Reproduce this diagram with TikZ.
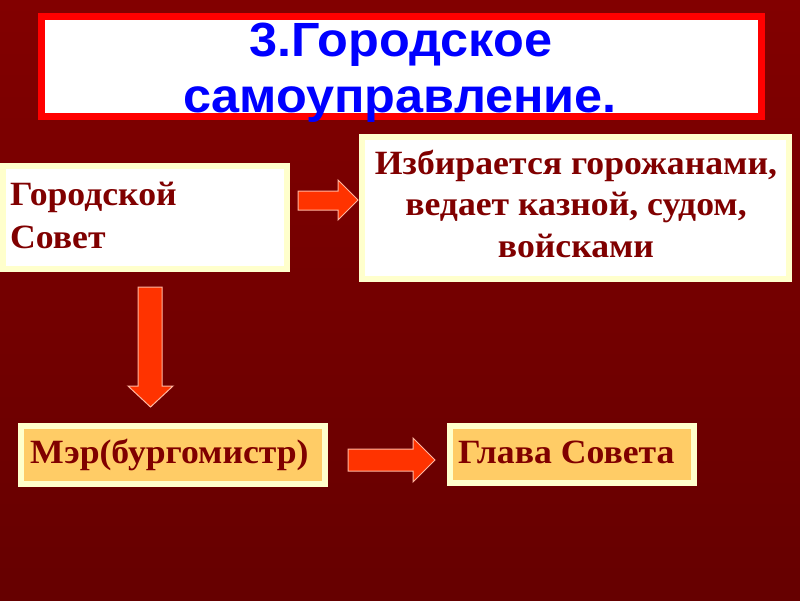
\documentclass[tikz,border=0pt]{standalone}
\usepackage{fontspec}
\setmainfont{Liberation Serif}
\newfontfamily\titlefont[FakeStretch=1.05]{Liberation Sans}
\newfontfamily\boxfont[FakeStretch=1.05]{Liberation Serif}
\definecolor{bgtop}{HTML}{820000}
\definecolor{bgbot}{HTML}{660000}
\definecolor{cream}{HTML}{FFFFCC}
\definecolor{txtred}{HTML}{800000}
\definecolor{arrowred}{HTML}{FF3300}
\definecolor{arrowedge}{HTML}{FFB6A0}
\definecolor{orangefill}{HTML}{FFCC66}
\definecolor{titleblue}{HTML}{0000FF}
\begin{document}
\begin{tikzpicture}[x=1pt,y=-1pt,
  box/.style={draw=cream, line width=6pt, fill=white, inner sep=0pt},
  obox/.style={draw=cream, line width=6pt, fill=orangefill, inner sep=0pt},
  btext/.style={text=txtred, font=\boxfont\bfseries\fontsize{34}{38}\selectfont, inner sep=0pt},
  ttext/.style={text=titleblue, font=\titlefont\bfseries\fontsize{48}{52}\selectfont, inner sep=0pt, anchor=base},
  blockarrow/.style={fill=arrowred, draw=arrowedge, line width=1pt, line join=miter}]
\shade[top color=bgtop, bottom color=bgbot] (0,0) rectangle (800,600);
\useasboundingbox (0,0) rectangle (800,600);

% title
\node[draw=red, line width=7pt, fill=white, minimum width=720pt, minimum height=100pt, inner sep=0pt] (title) at (401.5,66.5) {};
\node[ttext] (t1) at (401,56) {3.Городское};
\node[ttext] (t2) at (400,112) {самоуправление.};

% boxes
\node[box, minimum width=284pt, minimum height=103pt] (b1) at (145,217.5) {};
\node[btext, anchor=base west] (b1a) at (10,205) {Городской};
\node[btext, anchor=base west] (b1b) at (10,248) {Совет};

\node[box, minimum width=427pt, minimum height=142pt] (b2) at (575,207.5) {};
\node[btext, anchor=base] (b2a) at (576,174) {Избирается горожанами,};
\node[btext, anchor=base] (b2b) at (576,215) {ведает казной, судом,};
\node[btext, anchor=base] (b2c) at (576,257) {войсками};

\node[obox, minimum width=304pt, minimum height=58pt] (b3) at (173,455) {};
\node[btext, anchor=base west] (b3a) at (30,463) {Мэр(бургомистр)};

\node[obox, minimum width=244pt, minimum height=57pt] (b4) at (572,454.5) {};
\node[btext, anchor=base west] (b4a) at (458,463) {Глава Совета};

% block arrows
\draw[blockarrow] (298,191) -- (338,191) -- (338,180) -- (358,200) -- (338,220) -- (338,210) -- (298,210) -- cycle;
\draw[blockarrow] (138,287) -- (162,287) -- (162,386) -- (173,386) -- (150.5,407) -- (128,386) -- (138,386) -- cycle;
\draw[blockarrow] (348,449) -- (413,449) -- (413,438) -- (435,460) -- (413,482) -- (413,471) -- (348,471) -- cycle;
\end{tikzpicture}
\end{document}
